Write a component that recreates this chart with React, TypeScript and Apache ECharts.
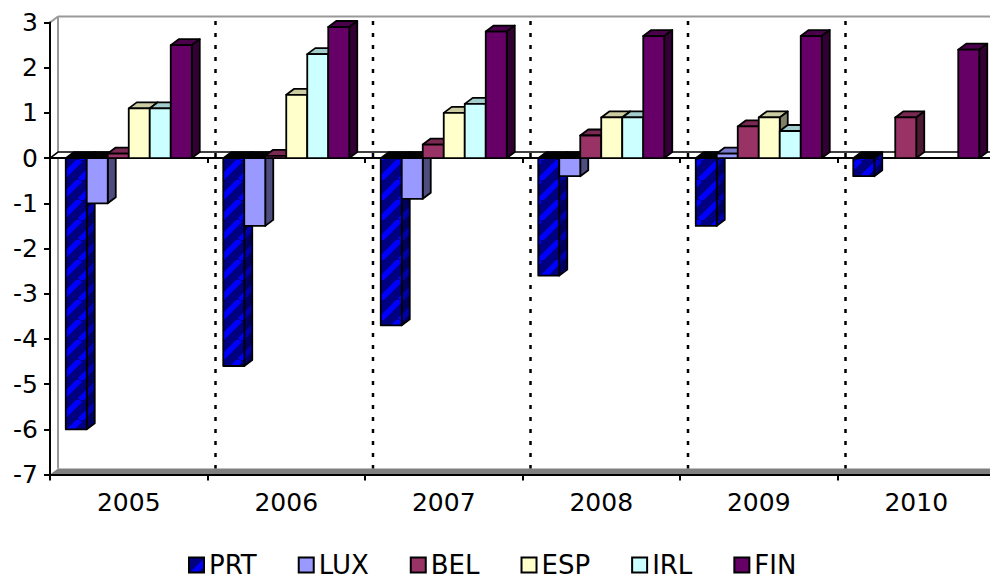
import React, { useEffect, useRef } from "react";
import * as echarts from "echarts";

const categories = ["2005", "2006", "2007", "2008", "2009", "2010"];
const PRT = [-6, -4.6, -3.7, -2.6, -1.5, -0.4];
const LUX = [-1, -1.5, -0.9, -0.4, 0.1, null];
const BEL = [0.1, 0.05, 0.3, 0.5, 0.7, 0.9];
const ESP = [1.1, 1.4, 1.0, 0.9, 0.9, null];
const IRL = [1.1, 2.3, 1.2, 0.9, 0.6, null];
const FIN = [2.5, 2.9, 2.8, 2.7, 2.7, 2.4];

const seriesNames = ["PRT", "LUX", "BEL", "ESP", "IRL", "FIN"];
const seriesValues = [PRT, LUX, BEL, ESP, IRL, FIN];

const DX = 8;
const DY = 6;

function stripeTile(base: string, stripe: string) {
  const w = 20;
  const h = 20;
  const c = document.createElement("canvas");
  c.width = w;
  c.height = h;
  const g = c.getContext("2d")!;
  g.fillStyle = base;
  g.fillRect(0, 0, w, h);
  g.strokeStyle = stripe;
  g.lineWidth = 5.5;
  for (let k = -w; k <= w; k += w) {
    g.beginPath();
    g.moveTo(k, h);
    g.lineTo(k + w, 0);
    g.stroke();
  }
  return c;
}

export default function App() {
  const ref = useRef<HTMLDivElement>(null);
  useEffect(() => {
    document.body.style.margin = "0";
    const chart = echarts.init(ref.current!, undefined, { renderer: "svg" });

    const prtFront = { image: stripeTile("#000080", "#0000ff"), repeat: "repeat" };
    const prtSide = { image: stripeTile("#000060", "#0000b0"), repeat: "repeat" };
    const fronts: any[] = [prtFront, "#9999ff", "#993366", "#ffffcc", "#ccffff", "#660066"];
    const sides: any[] = [prtSide, "#4d4d80", "#4d1a33", "#808066", "#668080", "#330033"];
    const tops: any[] = ["#000050", "#7a7acc", "#7a2952", "#cccca3", "#a3cccc", "#4a004a"];

    const barRender = (idx: number) => (params: any, api: any) => {
      const i = api.value(0);
      const v = api.value(1);
      if (v == null || isNaN(v)) return null;
      const band = api.size([1, 0])[0];
      const w = band / 7.5;
      const cx = api.coord([i, 0])[0];
      const y0 = api.coord([i, 0])[1];
      const yv = api.coord([i, v])[1];
      const x = cx - 3 * w + idx * w;
      const yTop = Math.min(y0, yv);
      const yBot = Math.max(y0, yv);
      const line = { stroke: "#000", lineWidth: 1.8, lineJoin: "round" };
      return {
        type: "group",
        children: [
          {
            type: "polygon",
            shape: { points: [[x, yTop], [x + DX, yTop - DY], [x + w + DX, yTop - DY], [x + w, yTop]] },
            style: { fill: v < 0 ? "#000" : tops[idx], ...line },
          },
          {
            type: "polygon",
            shape: { points: [[x + w, yTop], [x + w + DX, yTop - DY], [x + w + DX, yBot - DY], [x + w, yBot]] },
            style: { fill: sides[idx], ...line },
          },
          {
            type: "rect",
            shape: { x, y: yTop, width: w, height: yBot - yTop },
            style: { fill: fronts[idx], ...line },
          },
        ],
      };
    };

    const frameRender = (params: any, api: any) => {
      const cs = params.coordSys;
      const left = cs.x;
      const right = cs.x + cs.width;
      const top = cs.y;
      const bottom = cs.y + cs.height;
      const y0 = api.coord([0, 0])[1];
      const band = cs.width / categories.length;
      const grey = { stroke: "#999999", lineWidth: 2 };
      const children: any[] = [
        { type: "line", shape: { x1: left, y1: top, x2: left + DX, y2: top - DY }, style: grey },
        { type: "line", shape: { x1: left + DX, y1: top - DY, x2: right + DX, y2: top - DY }, style: grey },
        { type: "line", shape: { x1: left + DX, y1: top - DY, x2: left + DX, y2: bottom - DY }, style: grey },
        {
          type: "polygon",
          shape: { points: [[left, bottom], [left + DX, bottom - DY], [right + DX, bottom - DY], [right, bottom]] },
          style: { fill: "#808080" },
        },
        {
          type: "polygon",
          shape: { points: [[left, y0], [left + DX, y0 - DY], [right + DX, y0 - DY], [right, y0]] },
          style: { fill: "#fff", stroke: "#000", lineWidth: 1.5 },
        },
      ];
      for (let k = 1; k < categories.length; k++) {
        const xb = left + band * k;
        children.push({
          type: "line",
          shape: { x1: xb + DX, y1: top - 1.5, x2: xb + DX, y2: bottom - DY },
          style: { stroke: "#000", lineWidth: 2.5, lineDash: [4, 8] },
        });
      }
      return { type: "group", children };
    };

    const font = "'DejaVu Sans', Verdana, sans-serif";
    const axisLine = { lineStyle: { color: "#000", width: 2 } };

    chart.setOption({
      animation: false,
      backgroundColor: "#fff",
      grid: { left: 50, top: 22.5, width: 945, height: 452, containLabel: false, outerBoundsMode: "none" },
      legend: {
        left: 188,
        top: 552,
        padding: 0,
        icon: "rect",
        itemWidth: 15,
        itemHeight: 15,
        itemGap: 41,
        data: seriesNames,
        textStyle: { fontFamily: font, fontSize: 26, lineHeight: 22, color: "#000" },
        itemStyle: { borderColor: "#000", borderWidth: 2 },
        selectedMode: false,
      },
      xAxis: [
        {
          type: "category",
          data: categories,
          position: "bottom",
          axisLine: { onZero: false, ...axisLine },
          axisTick: { show: true, length: 6, lineStyle: { color: "#000", width: 2 } },
          axisLabel: { fontFamily: font, fontSize: 25, color: "#000", margin: 15 },
          splitLine: { show: false },
        },
        {
          type: "category",
          data: categories,
          position: "bottom",
          axisLine: { onZero: true, ...axisLine },
          axisTick: { show: true, length: 5, lineStyle: { color: "#000", width: 2 } },
          axisLabel: { show: false },
          splitLine: { show: false },
        },
      ],
      yAxis: {
        type: "value",
        min: -7,
        max: 3,
        interval: 1,
        axisLine: { show: true, onZero: false, ...axisLine },
        axisTick: { show: true, length: 6, lineStyle: { color: "#000", width: 2 } },
        axisLabel: { fontFamily: font, fontSize: 25, color: "#000", margin: 12 },
        splitLine: { show: false },
      },
      series: [
        {
          type: "custom",
          name: "frame",
          z: -1,
          silent: true,
          clip: false,
          data: [[0, 0]],
          encode: { x: 0, y: 1 },
          renderItem: frameRender,
        },
        ...seriesNames.map((name, idx) => ({
          type: "custom",
          name,
          z: 2 + idx,
          clip: false,
          itemStyle: { color: fronts[idx] },
          encode: { x: 0, y: 1 },
          data: seriesValues[idx].map((v, i) => [i, v]),
          renderItem: barRender(idx),
        })),
      ],
    });
    return () => chart.dispose();
  }, []);
  return <div ref={ref} style={{ width: 990, height: 576 }} />;
}
